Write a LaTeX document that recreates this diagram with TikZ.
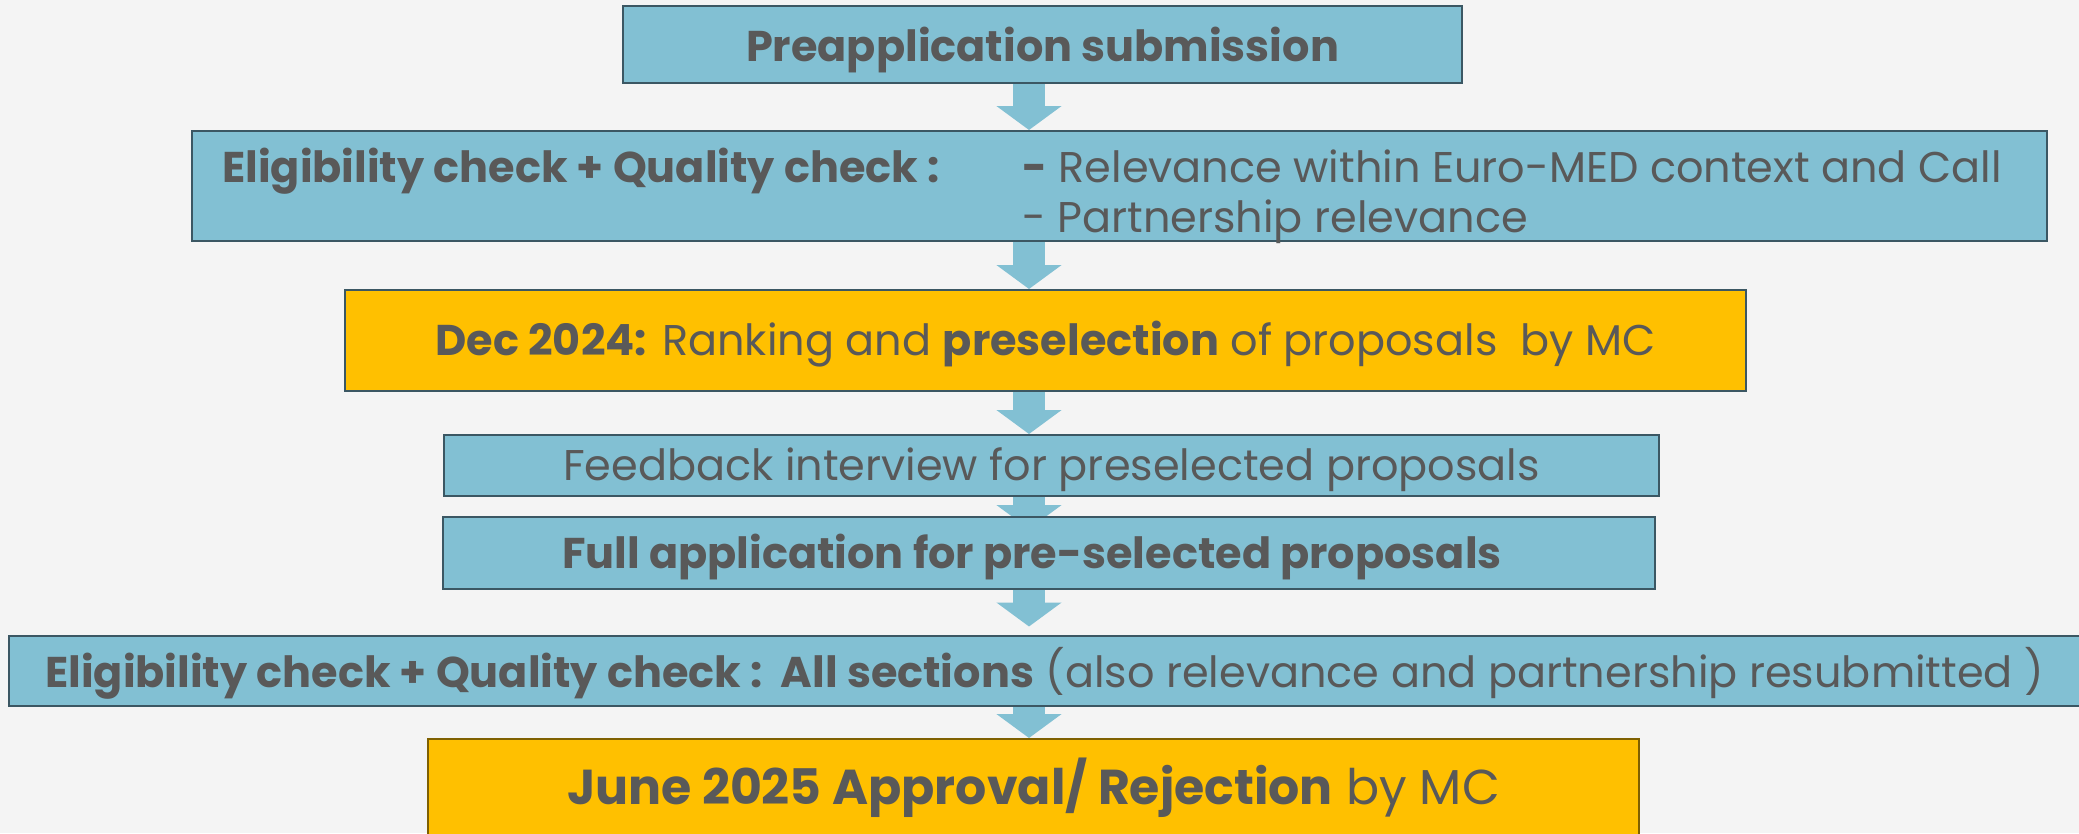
\documentclass[tikz,border=0pt]{standalone}
\usepackage{fontspec}
\setmainfont{Poppins}
\usepackage{xcolor}
\usetikzlibrary{positioning, arrows.meta, calc}

\definecolor{paper}{HTML}{F4F4F4}
\definecolor{sky}{HTML}{82C0D3}
\definecolor{edge}{HTML}{3B5763}
\definecolor{gold}{HTML}{FFC000}
\definecolor{goldedge}{HTML}{7F6000}
\definecolor{ink}{HTML}{595959}

\pgfdeclarelayer{bg}
\pgfsetlayers{bg,main}

\begin{document}
\begin{tikzpicture}[x=1pt, y=-1pt,
    box/.style={draw=edge, line width=2pt, fill=sky, text=ink, inner sep=0pt,
        text height=30pt, text depth=0pt, font=\fontsize{43}{52}\selectfont},
    goldbox/.style={box, fill=gold},
    txt/.style={text=ink, inner sep=0pt, anchor=base west, font=\fontsize{43}{52}\selectfont},
    flow/.style={draw=sky, line width=32pt, -{Triangle[width=64pt,length=24pt]}}]
    \useasboundingbox (0,0) rectangle (2079,833);

    % Components
    \node[box, minimum width=839pt, minimum height=77pt, text height=34pt, text depth=-4pt] (pre) at (1042.5,44.5) {\textbf{Preapplication submission}};

    \node[box, minimum width=1855pt, minimum height=110pt] (elig1) at (1119.5,186) {};
    \node[txt] (elig1head) at (222,182) {\textbf{Eligibility check + Quality check :}};
    \node[txt] (elig1a) at (1022,182) {\textbf{-} Relevance within Euro-MED context and Call};
    \node[txt] (elig1b) at (1022,232) {- Partnership relevance};

    \node[goldbox, minimum width=1401pt, minimum height=101pt] (rank) at (1045.5,340.5) {\textbf{Dec 2024:} Ranking and \textbf{preselection} of proposals\ \ by MC};

    \node[box, minimum width=1215pt, minimum height=61pt] (feedback) at (1051.5,465.5) {Feedback interview for preselected proposals};

    \node[box, minimum width=1212pt, minimum height=72pt] (full) at (1049,553) {\textbf{Full application for pre-selected proposals}\kern34pt};

    \node[box, minimum width=2100pt, minimum height=70pt] (elig2) at (1059,670.5) {};
    \node[txt] (elig2text) at (45,687) {\textbf{Eligibility check + Quality check :\ \ All sections} (also relevance and partnership resubmitted )};

    \node[goldbox, draw=goldedge, minimum width=1211pt, minimum height=96pt, text height=34pt, font=\fontsize{49}{58}\selectfont] (approval) at (1033.5,787) {\textbf{June 2025 Approval/ Rejection} by MC};

    % Connections
    \coordinate (axis) at (1029,0);
    \begin{pgfonlayer}{bg}
        \fill[paper] (0,0) rectangle (2079,833);
        \draw[flow] (pre.south -| axis) -- (elig1.north -| axis);
        \draw[flow] (elig1.south -| axis) -- (rank.north -| axis);
        \draw[flow] (rank.south -| axis) -- (feedback.north -| axis);
        \draw[flow] (feedback.south -| axis) -- ($(full.north -| axis)+(0,13)$);
        \draw[flow, shorten >=8pt] (full.south -| axis) -- (elig2.north -| axis);
        \draw[flow] (elig2.south -| axis) -- (approval.north -| axis);
    \end{pgfonlayer}
\end{tikzpicture}
\end{document}
